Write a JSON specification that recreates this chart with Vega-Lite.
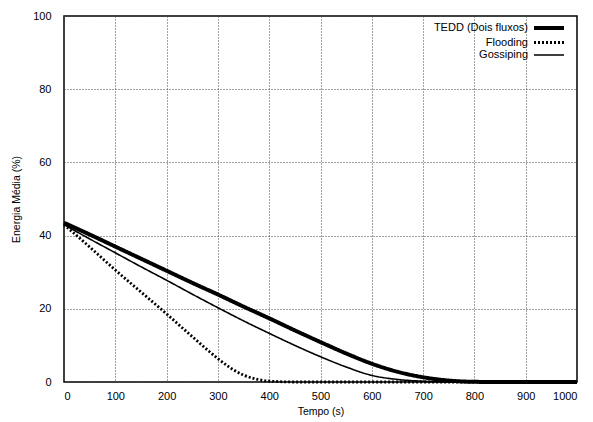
{
  "$schema": "https://vega.github.io/schema/vega-lite/v6.json",
  "autosize": "none",
  "width": 513,
  "height": 366,
  "padding": {"left": 64, "top": 16, "right": 16, "bottom": 40},
  "config": {
    "font": "Liberation Sans",
    "view": {"stroke": "black", "strokeWidth": 1.5},
    "axis": {
      "labelFont": "Liberation Sans", "titleFont": "Liberation Sans",
      "labelFontSize": 11, "titleFontSize": 10.5, "titleFontWeight": "normal",
      "labelColor": "black", "titleColor": "black",
      "domain": false, "ticks": false,
      "gridColor": "#444", "gridDash": [1, 2], "gridWidth": 1, "gridOpacity": 1
    },
    "legend": {"labelFont": "Liberation Sans", "labelFontSize": 11, "labelColor": "black"}
  },
  "data": {"values": [
    {"t": 0, "v": 43.5, "s": "TEDD (Dois fluxos)"},
    {"t": 50, "v": 40.3, "s": "TEDD (Dois fluxos)"},
    {"t": 100, "v": 37.0, "s": "TEDD (Dois fluxos)"},
    {"t": 150, "v": 33.7, "s": "TEDD (Dois fluxos)"},
    {"t": 200, "v": 30.4, "s": "TEDD (Dois fluxos)"},
    {"t": 250, "v": 27.1, "s": "TEDD (Dois fluxos)"},
    {"t": 300, "v": 23.9, "s": "TEDD (Dois fluxos)"},
    {"t": 350, "v": 20.6, "s": "TEDD (Dois fluxos)"},
    {"t": 400, "v": 17.4, "s": "TEDD (Dois fluxos)"},
    {"t": 450, "v": 14.1, "s": "TEDD (Dois fluxos)"},
    {"t": 500, "v": 10.9, "s": "TEDD (Dois fluxos)"},
    {"t": 550, "v": 7.8, "s": "TEDD (Dois fluxos)"},
    {"t": 600, "v": 5.0, "s": "TEDD (Dois fluxos)"},
    {"t": 650, "v": 2.8, "s": "TEDD (Dois fluxos)"},
    {"t": 700, "v": 1.3, "s": "TEDD (Dois fluxos)"},
    {"t": 750, "v": 0.4, "s": "TEDD (Dois fluxos)"},
    {"t": 800, "v": 0.05, "s": "TEDD (Dois fluxos)"},
    {"t": 850, "v": 0, "s": "TEDD (Dois fluxos)"},
    {"t": 900, "v": 0, "s": "TEDD (Dois fluxos)"},
    {"t": 950, "v": 0, "s": "TEDD (Dois fluxos)"},
    {"t": 1000, "v": 0, "s": "TEDD (Dois fluxos)"},
    {"t": 0, "v": 43.0, "s": "Flooding"},
    {"t": 50, "v": 36.9, "s": "Flooding"},
    {"t": 100, "v": 30.6, "s": "Flooding"},
    {"t": 150, "v": 24.6, "s": "Flooding"},
    {"t": 200, "v": 18.6, "s": "Flooding"},
    {"t": 250, "v": 12.4, "s": "Flooding"},
    {"t": 300, "v": 6.4, "s": "Flooding"},
    {"t": 325, "v": 3.8, "s": "Flooding"},
    {"t": 350, "v": 1.9, "s": "Flooding"},
    {"t": 375, "v": 0.8, "s": "Flooding"},
    {"t": 400, "v": 0.25, "s": "Flooding"},
    {"t": 450, "v": 0, "s": "Flooding"},
    {"t": 500, "v": 0, "s": "Flooding"},
    {"t": 600, "v": 0, "s": "Flooding"},
    {"t": 700, "v": 0, "s": "Flooding"},
    {"t": 800, "v": 0, "s": "Flooding"},
    {"t": 900, "v": 0, "s": "Flooding"},
    {"t": 1000, "v": 0, "s": "Flooding"},
    {"t": 0, "v": 43.0, "s": "Gossiping"},
    {"t": 50, "v": 39.1, "s": "Gossiping"},
    {"t": 100, "v": 35.3, "s": "Gossiping"},
    {"t": 150, "v": 31.5, "s": "Gossiping"},
    {"t": 200, "v": 27.8, "s": "Gossiping"},
    {"t": 250, "v": 24.0, "s": "Gossiping"},
    {"t": 300, "v": 20.3, "s": "Gossiping"},
    {"t": 350, "v": 16.7, "s": "Gossiping"},
    {"t": 400, "v": 13.3, "s": "Gossiping"},
    {"t": 450, "v": 10.0, "s": "Gossiping"},
    {"t": 500, "v": 6.9, "s": "Gossiping"},
    {"t": 550, "v": 4.1, "s": "Gossiping"},
    {"t": 600, "v": 1.8, "s": "Gossiping"},
    {"t": 650, "v": 0.7, "s": "Gossiping"},
    {"t": 700, "v": 0.2, "s": "Gossiping"},
    {"t": 750, "v": 0, "s": "Gossiping"},
    {"t": 800, "v": 0, "s": "Gossiping"},
    {"t": 900, "v": 0, "s": "Gossiping"},
    {"t": 1000, "v": 0, "s": "Gossiping"}
  ]},
  "mark": {"type": "line", "color": "black", "interpolate": "monotone"},
  "encoding": {
    "x": {"field": "t", "type": "quantitative", "title": "Tempo (s)",
      "scale": {"domain": [0, 1000], "nice": false},
      "axis": {"values": [0,100,200,300,400,500,600,700,800,900,1000], "format": "d", "labelPadding": 8, "titlePadding": 5}},
    "y": {"field": "v", "type": "quantitative", "title": "Energia Média (%)",
      "scale": {"domain": [0, 100], "nice": false},
      "axis": {"values": [0,20,40,60,80,100], "labelPadding": 13, "titlePadding": 11}},
    "strokeDash": {"field": "s", "type": "nominal", "title": null,
      "scale": {"domain": ["TEDD (Dois fluxos)", "Flooding", "Gossiping"], "range": [[1, 0], [2, 2], [1, 0]]}},
    "strokeWidth": {"field": "s", "type": "nominal", "title": null,
      "scale": {"domain": ["TEDD (Dois fluxos)", "Flooding", "Gossiping"], "range": [4, 1.6, 1]},
      "legend": {"orient": "none", "legendX": 478, "legendY": 5, "symbolType": "M-3,0H3", "symbolSize": 100, "symbolStrokeColor": "black",
        "labelAlign": "right", "labelOffset": -28, "rowPadding": -2, "labelFontSize": 11}}
  }
}
